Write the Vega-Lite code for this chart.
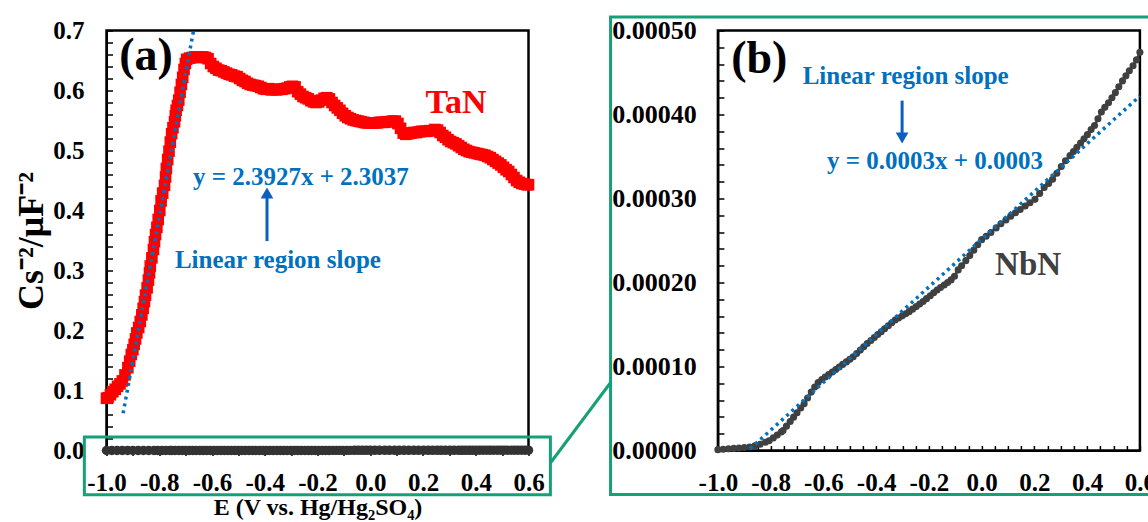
{
  "$schema": "https://vega.github.io/schema/vega-lite/v6.json",
  "padding": {"left": 11.5, "top": 13.5, "right": 0, "bottom": 0},
  "bounds": "flush",
  "spacing": 189.4,
  "config": {
    "view": {"stroke": "black", "strokeWidth": 2.5},
    "font": "Liberation Serif",
    "axis": {
      "labelFont": "Liberation Serif", "labelFontWeight": "bold", "labelFontSize": 25, "labelColor": "black",
      "titleFont": "Liberation Serif", "titleFontWeight": "bold", "titleFontSize": 24, "titleColor": "black",
      "domainColor": "black", "domainWidth": 2, "tickColor": "black", "tickWidth": 1.5,
      "grid": false, "labelFlush": false, "labelOverlap": false
    }
  },
  "datasets": {
    "tan": [
      {"E": -1.000, "C": 0.087}, {"E": -0.994, "C": 0.088}, {"E": -0.985, "C": 0.093}, {"E": -0.976, "C": 0.098},
      {"E": -0.967, "C": 0.102}, {"E": -0.958, "C": 0.107}, {"E": -0.949, "C": 0.111}, {"E": -0.940, "C": 0.116},
      {"E": -0.930, "C": 0.126}, {"E": -0.919, "C": 0.138}, {"E": -0.912, "C": 0.149}, {"E": -0.906, "C": 0.160},
      {"E": -0.900, "C": 0.168}, {"E": -0.895, "C": 0.177}, {"E": -0.890, "C": 0.186}, {"E": -0.885, "C": 0.196},
      {"E": -0.878, "C": 0.205}, {"E": -0.872, "C": 0.215}, {"E": -0.866, "C": 0.226}, {"E": -0.861, "C": 0.237},
      {"E": -0.856, "C": 0.248}, {"E": -0.852, "C": 0.259}, {"E": -0.846, "C": 0.271}, {"E": -0.841, "C": 0.284},
      {"E": -0.837, "C": 0.296}, {"E": -0.834, "C": 0.3075}, {"E": -0.828, "C": 0.321}, {"E": -0.822, "C": 0.335},
      {"E": -0.818, "C": 0.348}, {"E": -0.814, "C": 0.360}, {"E": -0.809, "C": 0.372}, {"E": -0.804, "C": 0.385},
      {"E": -0.798, "C": 0.400}, {"E": -0.793, "C": 0.416}, {"E": -0.787, "C": 0.429}, {"E": -0.780, "C": 0.442},
      {"E": -0.776, "C": 0.456}, {"E": -0.773, "C": 0.470}, {"E": -0.768, "C": 0.485}, {"E": -0.763, "C": 0.499},
      {"E": -0.758, "C": 0.514}, {"E": -0.753, "C": 0.528}, {"E": -0.748, "C": 0.538}, {"E": -0.742, "C": 0.548},
      {"E": -0.739, "C": 0.558}, {"E": -0.736, "C": 0.567}, {"E": -0.731, "C": 0.575}, {"E": -0.726, "C": 0.584},
      {"E": -0.721, "C": 0.597}, {"E": -0.716, "C": 0.610}, {"E": -0.711, "C": 0.622}, {"E": -0.706, "C": 0.635},
      {"E": -0.701, "C": 0.645}, {"E": -0.696, "C": 0.652}, {"E": -0.685, "C": 0.654}, {"E": -0.675, "C": 0.655},
      {"E": -0.665, "C": 0.656}, {"E": -0.655, "C": 0.656}, {"E": -0.645, "C": 0.655}, {"E": -0.635, "C": 0.656},
      {"E": -0.625, "C": 0.655}, {"E": -0.615, "C": 0.653}, {"E": -0.605, "C": 0.645}, {"E": -0.595, "C": 0.640},
      {"E": -0.585, "C": 0.637}, {"E": -0.575, "C": 0.634}, {"E": -0.565, "C": 0.633}, {"E": -0.555, "C": 0.631},
      {"E": -0.545, "C": 0.629}, {"E": -0.535, "C": 0.627}, {"E": -0.525, "C": 0.626}, {"E": -0.515, "C": 0.624},
      {"E": -0.505, "C": 0.623}, {"E": -0.495, "C": 0.620}, {"E": -0.485, "C": 0.617}, {"E": -0.475, "C": 0.615},
      {"E": -0.465, "C": 0.612}, {"E": -0.455, "C": 0.610}, {"E": -0.445, "C": 0.609}, {"E": -0.435, "C": 0.608},
      {"E": -0.425, "C": 0.607}, {"E": -0.415, "C": 0.605}, {"E": -0.405, "C": 0.603}, {"E": -0.395, "C": 0.602},
      {"E": -0.385, "C": 0.603}, {"E": -0.375, "C": 0.601}, {"E": -0.365, "C": 0.602}, {"E": -0.355, "C": 0.601},
      {"E": -0.345, "C": 0.602}, {"E": -0.335, "C": 0.602}, {"E": -0.325, "C": 0.603}, {"E": -0.315, "C": 0.604},
      {"E": -0.305, "C": 0.606}, {"E": -0.295, "C": 0.607}, {"E": -0.285, "C": 0.606}, {"E": -0.275, "C": 0.598},
      {"E": -0.265, "C": 0.594}, {"E": -0.255, "C": 0.590}, {"E": -0.245, "C": 0.588}, {"E": -0.235, "C": 0.586},
      {"E": -0.225, "C": 0.583}, {"E": -0.215, "C": 0.581}, {"E": -0.205, "C": 0.580}, {"E": -0.195, "C": 0.581},
      {"E": -0.185, "C": 0.584}, {"E": -0.175, "C": 0.587}, {"E": -0.165, "C": 0.588}, {"E": -0.155, "C": 0.586},
      {"E": -0.145, "C": 0.580}, {"E": -0.135, "C": 0.575}, {"E": -0.125, "C": 0.571}, {"E": -0.115, "C": 0.567},
      {"E": -0.105, "C": 0.562}, {"E": -0.095, "C": 0.558}, {"E": -0.085, "C": 0.555}, {"E": -0.075, "C": 0.553},
      {"E": -0.065, "C": 0.551}, {"E": -0.055, "C": 0.550}, {"E": -0.045, "C": 0.549}, {"E": -0.035, "C": 0.548},
      {"E": -0.025, "C": 0.547}, {"E": -0.015, "C": 0.546}, {"E": -0.005, "C": 0.546}, {"E": 0.005, "C": 0.546},
      {"E": 0.015, "C": 0.546}, {"E": 0.025, "C": 0.546}, {"E": 0.035, "C": 0.547}, {"E": 0.045, "C": 0.547},
      {"E": 0.055, "C": 0.547}, {"E": 0.065, "C": 0.548}, {"E": 0.075, "C": 0.548}, {"E": 0.085, "C": 0.549},
      {"E": 0.095, "C": 0.549}, {"E": 0.105, "C": 0.545}, {"E": 0.115, "C": 0.537}, {"E": 0.125, "C": 0.529},
      {"E": 0.135, "C": 0.527}, {"E": 0.145, "C": 0.528}, {"E": 0.155, "C": 0.529}, {"E": 0.165, "C": 0.530},
      {"E": 0.175, "C": 0.530}, {"E": 0.185, "C": 0.531}, {"E": 0.195, "C": 0.532}, {"E": 0.205, "C": 0.532},
      {"E": 0.215, "C": 0.532}, {"E": 0.225, "C": 0.533}, {"E": 0.235, "C": 0.533}, {"E": 0.245, "C": 0.535},
      {"E": 0.255, "C": 0.534}, {"E": 0.265, "C": 0.530}, {"E": 0.275, "C": 0.525}, {"E": 0.285, "C": 0.522},
      {"E": 0.295, "C": 0.518}, {"E": 0.305, "C": 0.515}, {"E": 0.315, "C": 0.513}, {"E": 0.325, "C": 0.511},
      {"E": 0.335, "C": 0.508}, {"E": 0.345, "C": 0.505}, {"E": 0.355, "C": 0.502}, {"E": 0.365, "C": 0.500},
      {"E": 0.375, "C": 0.498}, {"E": 0.385, "C": 0.497}, {"E": 0.395, "C": 0.496}, {"E": 0.405, "C": 0.495},
      {"E": 0.415, "C": 0.494}, {"E": 0.425, "C": 0.493}, {"E": 0.435, "C": 0.492}, {"E": 0.445, "C": 0.490},
      {"E": 0.455, "C": 0.488}, {"E": 0.465, "C": 0.485}, {"E": 0.475, "C": 0.482}, {"E": 0.485, "C": 0.479},
      {"E": 0.495, "C": 0.476}, {"E": 0.505, "C": 0.472}, {"E": 0.515, "C": 0.468}, {"E": 0.525, "C": 0.465},
      {"E": 0.535, "C": 0.460}, {"E": 0.545, "C": 0.455}, {"E": 0.555, "C": 0.450}, {"E": 0.565, "C": 0.447},
      {"E": 0.575, "C": 0.445}, {"E": 0.585, "C": 0.444}, {"E": 0.595, "C": 0.443}, {"E": 0.600, "C": 0.443}
    ],
    "nbn": [
      {"E": -1.000, "C": 0.0000010}, {"E": -0.980, "C": 0.0000015}, {"E": -0.960, "C": 0.0000020}, {"E": -0.940, "C": 0.0000025},
      {"E": -0.920, "C": 0.0000030}, {"E": -0.900, "C": 0.0000035}, {"E": -0.880, "C": 0.0000042}, {"E": -0.860, "C": 0.0000055},
      {"E": -0.840, "C": 0.0000075}, {"E": -0.820, "C": 0.0000098}, {"E": -0.806, "C": 0.0000117}, {"E": -0.790, "C": 0.0000150},
      {"E": -0.775, "C": 0.0000185}, {"E": -0.760, "C": 0.0000220}, {"E": -0.753, "C": 0.0000237}, {"E": -0.740, "C": 0.0000290},
      {"E": -0.726, "C": 0.0000345}, {"E": -0.713, "C": 0.0000397}, {"E": -0.700, "C": 0.0000450}, {"E": -0.686, "C": 0.0000505},
      {"E": -0.673, "C": 0.0000556}, {"E": -0.660, "C": 0.0000625}, {"E": -0.646, "C": 0.0000695}, {"E": -0.633, "C": 0.0000756},
      {"E": -0.620, "C": 0.0000810}, {"E": -0.606, "C": 0.0000845}, {"E": -0.593, "C": 0.0000876}, {"E": -0.580, "C": 0.0000905},
      {"E": -0.566, "C": 0.0000935}, {"E": -0.553, "C": 0.0000965}, {"E": -0.540, "C": 0.0000995}, {"E": -0.527, "C": 0.0001025},
      {"E": -0.513, "C": 0.0001055}, {"E": -0.500, "C": 0.0001085}, {"E": -0.487, "C": 0.0001115}, {"E": -0.474, "C": 0.0001155},
      {"E": -0.460, "C": 0.0001195}, {"E": -0.447, "C": 0.0001235}, {"E": -0.434, "C": 0.0001274}, {"E": -0.420, "C": 0.0001310},
      {"E": -0.407, "C": 0.0001345}, {"E": -0.394, "C": 0.0001380}, {"E": -0.381, "C": 0.0001414}, {"E": -0.368, "C": 0.0001450},
      {"E": -0.354, "C": 0.0001485}, {"E": -0.341, "C": 0.0001520}, {"E": -0.328, "C": 0.0001553}, {"E": -0.315, "C": 0.0001578},
      {"E": -0.301, "C": 0.0001603}, {"E": -0.288, "C": 0.0001628}, {"E": -0.275, "C": 0.0001653}, {"E": -0.262, "C": 0.0001683},
      {"E": -0.248, "C": 0.0001713}, {"E": -0.235, "C": 0.0001743}, {"E": -0.222, "C": 0.0001773}, {"E": -0.209, "C": 0.0001808},
      {"E": -0.195, "C": 0.0001843}, {"E": -0.182, "C": 0.0001877}, {"E": -0.169, "C": 0.0001911}, {"E": -0.156, "C": 0.0001941},
      {"E": -0.142, "C": 0.0001971}, {"E": -0.129, "C": 0.0002001}, {"E": -0.116, "C": 0.0002031}, {"E": -0.103, "C": 0.0002075},
      {"E": -0.089, "C": 0.0002150}, {"E": -0.076, "C": 0.0002200}, {"E": -0.060, "C": 0.0002260}, {"E": -0.045, "C": 0.0002320},
      {"E": -0.030, "C": 0.0002385}, {"E": -0.015, "C": 0.0002450}, {"E": 0.000, "C": 0.0002510}, {"E": 0.017, "C": 0.0002550},
      {"E": 0.035, "C": 0.0002595}, {"E": 0.055, "C": 0.0002650}, {"E": 0.073, "C": 0.0002700}, {"E": 0.092, "C": 0.0002745},
      {"E": 0.110, "C": 0.0002790}, {"E": 0.128, "C": 0.0002830}, {"E": 0.146, "C": 0.0002870}, {"E": 0.165, "C": 0.0002910},
      {"E": 0.183, "C": 0.0002950}, {"E": 0.202, "C": 0.0002990}, {"E": 0.220, "C": 0.0003060}, {"E": 0.237, "C": 0.0003130},
      {"E": 0.254, "C": 0.0003180}, {"E": 0.269, "C": 0.0003230}, {"E": 0.285, "C": 0.0003300}, {"E": 0.302, "C": 0.0003380},
      {"E": 0.318, "C": 0.0003450}, {"E": 0.335, "C": 0.0003510}, {"E": 0.348, "C": 0.0003560}, {"E": 0.361, "C": 0.0003610},
      {"E": 0.375, "C": 0.0003660}, {"E": 0.388, "C": 0.0003710}, {"E": 0.401, "C": 0.0003760}, {"E": 0.415, "C": 0.0003820},
      {"E": 0.428, "C": 0.0003870}, {"E": 0.441, "C": 0.0003950}, {"E": 0.454, "C": 0.0004030}, {"E": 0.467, "C": 0.0004085},
      {"E": 0.481, "C": 0.0004140}, {"E": 0.494, "C": 0.0004200}, {"E": 0.507, "C": 0.0004260}, {"E": 0.520, "C": 0.0004330},
      {"E": 0.534, "C": 0.0004400}, {"E": 0.547, "C": 0.0004460}, {"E": 0.560, "C": 0.0004520}, {"E": 0.574, "C": 0.0004580},
      {"E": 0.587, "C": 0.0004650}, {"E": 0.600, "C": 0.0004740}
    ]
  },
  "hconcat": [
    {
      "width": 422, "height": 420,
      "encoding": {
        "x": {"field": "E", "type": "quantitative", "title": "E (V vs. Hg/Hg₂SO₄)",
          "scale": {"domain": [-1, 0.6], "nice": false, "zero": false},
          "axis": {"values": [-1, -0.9, -0.8, -0.7, -0.6, -0.5, -0.4, -0.3, -0.2, -0.1, 0, 0.1, 0.2, 0.3, 0.4, 0.5, 0.6],
            "labelExpr": "abs(datum.value*5 - round(datum.value*5)) < 0.001 ? replace(format(datum.value, '.1f'), '−', '-') : ''",
            "tickSize": 5, "labelPadding": 27, "labelBaseline": "middle",
            "titleY": 57, "titleBaseline": "middle", "titleFontSize": 24}},
        "y": {"field": "C", "type": "quantitative", "title": "Cs⁻²/μF⁻²",
          "scale": {"domain": [0, 0.7], "nice": false, "zero": false},
          "axis": {"values": [0, 0.02, 0.04, 0.06, 0.08, 0.1, 0.12, 0.14, 0.16, 0.18, 0.2, 0.22, 0.24, 0.26, 0.28, 0.3, 0.32, 0.34, 0.36, 0.38, 0.4, 0.42, 0.44, 0.46, 0.48, 0.5, 0.52, 0.54, 0.56, 0.58, 0.6, 0.62, 0.64, 0.66, 0.68, 0.7],
            "labelExpr": "abs(datum.value*10 - round(datum.value*10)) < 0.001 ? format(datum.value, '.1f') : ''",
            "tickSize": -6, "labelPadding": 28.5, "labelBaseline": "middle",
            "titleX": -75, "titleY": 210, "titleAngle": 270, "titleBaseline": "middle", "titleAlign": "center", "titleFontSize": 36}}
      },
      "layer": [
        {"data": {"name": "nbn"}, "mark": {"type": "line", "color": "#333333", "strokeWidth": 5}},
        {"data": {"name": "nbn"}, "mark": {"type": "point", "shape": "circle", "filled": true, "color": "#333333", "size": 90, "opacity": 1}},
        {"data": {"name": "tan"}, "mark": {"type": "line", "color": "#ff0000", "strokeWidth": 2}},
        {"data": {"name": "tan"}, "mark": {"type": "point", "shape": "square", "filled": true, "color": "#ff0000", "size": 135, "opacity": 1}},
        {"data": {"values": [{"E": -0.937, "C": 0.062}, {"E": -0.670, "C": 0.700}]},
          "mark": {"type": "line", "color": "#0070c0", "strokeWidth": 3.5, "strokeDash": [3, 4]}},
        {"data": {"values": [{"E": -0.3915, "C": 0.349, "C2": 0.421}]},
          "mark": {"type": "rule", "color": "#0a5fbf", "strokeWidth": 3},
          "encoding": {"y2": {"field": "C2"}}},
        {"data": {"values": [{"E": -0.3915, "C": 0.4290}]},
          "mark": {"type": "point", "shape": "triangle-up", "filled": true, "color": "#0a5fbf", "size": 160, "opacity": 1}},
        {"data": {"values": [{"E": -0.850, "C": 0.6347, "label": "(a)"}]},
          "mark": {"type": "text", "font": "Liberation Serif", "fontWeight": "bold", "fontSize": 46, "color": "black", "align": "center", "baseline": "alphabetic"},
          "encoding": {"text": {"field": "label"}}},
        {"data": {"values": [{"E": 0.325, "C": 0.5625, "label": "TaN"}]},
          "mark": {"type": "text", "font": "Liberation Serif", "fontWeight": "bold", "fontSize": 34, "color": "#ff0000", "align": "center", "baseline": "alphabetic"},
          "encoding": {"text": {"field": "label"}}},
        {"data": {"values": [{"E": -0.263, "C": 0.4425, "label": "y = 2.3927x + 2.3037"}, {"E": -0.35, "C": 0.305, "label": "Linear region slope"}]},
          "mark": {"type": "text", "font": "Liberation Serif", "fontWeight": "bold", "fontSize": 25, "color": "#0070c0", "align": "center", "baseline": "alphabetic"},
          "encoding": {"text": {"field": "label"}}},
        {"data": {"values": [{"E": -1.084, "E2": 0.683, "C": -0.0737, "C2": 0.0225}]},
          "mark": {"type": "rect", "fill": null, "fillOpacity": 0, "stroke": "#17a078", "strokeWidth": 3},
          "encoding": {"x2": {"field": "E2"}, "y2": {"field": "C2"}}},
        {"data": {"values": [{"E": 0.683, "C": -0.0208}, {"E": 0.910, "C": 0.1125}]},
          "mark": {"type": "line", "color": "#17a078", "strokeWidth": 3}}
      ]
    },
    {
      "width": 422, "height": 420,
      "encoding": {
        "x": {"field": "E", "type": "quantitative", "title": null,
          "scale": {"domain": [-1, 0.6], "nice": false, "zero": false},
          "axis": {"values": [-1, -0.95, -0.9, -0.85, -0.8, -0.75, -0.7, -0.65, -0.6, -0.55, -0.5, -0.45, -0.4, -0.35, -0.3, -0.25, -0.2, -0.15, -0.1, -0.05, 0, 0.05, 0.1, 0.15, 0.2, 0.25, 0.3, 0.35, 0.4, 0.45, 0.5, 0.55, 0.6],
            "labelExpr": "abs(datum.value*5 - round(datum.value*5)) < 0.001 ? replace(format(datum.value, '.1f'), '−', '-') : ''",
            "tickSize": -5, "labelPadding": 37, "labelBaseline": "middle"}},
        "y": {"field": "C", "type": "quantitative", "title": null,
          "scale": {"domain": [0, 0.0005], "nice": false, "zero": false},
          "axis": {"values": [0, 0.00002, 0.00004, 0.00006, 0.00008, 0.0001, 0.00012, 0.00014, 0.00016, 0.00018, 0.0002, 0.00022, 0.00024, 0.00026, 0.00028, 0.0003, 0.00032, 0.00034, 0.00036, 0.00038, 0.0004, 0.00042, 0.00044, 0.00046, 0.00048, 0.0005],
            "labelExpr": "abs(datum.value*10000 - round(datum.value*10000)) < 0.001 ? format(datum.value, '.5f') : ''",
            "tickSize": -6, "labelPadding": 27.7, "labelBaseline": "middle", "labelFontSize": 26}}
      },
      "layer": [
        {"data": {"name": "nbn"}, "mark": {"type": "line", "color": "#404040", "strokeWidth": 2.5}},
        {"data": {"name": "nbn"}, "mark": {"type": "point", "shape": "circle", "filled": true, "color": "#404040", "size": 50, "opacity": 1}},
        {"data": {"values": [{"E": -0.878, "C": 0.000002}, {"E": 0.600, "C": 0.000422}]},
          "mark": {"type": "line", "color": "#0070c0", "strokeWidth": 3.5, "strokeDash": [3, 4]}},
        {"data": {"values": [{"E": -0.3016, "C": 0.0004165, "C2": 0.000377}]},
          "mark": {"type": "rule", "color": "#0a5fbf", "strokeWidth": 3},
          "encoding": {"y2": {"field": "C2"}}},
        {"data": {"values": [{"E": -0.3016, "C": 0.000372}]},
          "mark": {"type": "point", "shape": "triangle-down", "filled": true, "color": "#0a5fbf", "size": 160, "opacity": 1}},
        {"data": {"values": [{"E": -0.843, "C": 0.000450, "label": "(b)"}]},
          "mark": {"type": "text", "font": "Liberation Serif", "fontWeight": "bold", "fontSize": 46, "color": "black", "align": "center", "baseline": "alphabetic"},
          "encoding": {"text": {"field": "label"}}},
        {"data": {"values": [{"E": 0.176, "C": 0.0002087, "label": "NbN"}]},
          "mark": {"type": "text", "font": "Liberation Serif", "fontWeight": "bold", "fontSize": 33, "color": "#404040", "align": "center", "baseline": "alphabetic"},
          "encoding": {"text": {"field": "label"}}},
        {"data": {"values": [{"E": -0.288, "C": 0.000436, "label": "Linear region slope"}, {"E": -0.1767, "C": 0.0003347, "label": "y = 0.0003x + 0.0003"}]},
          "mark": {"type": "text", "font": "Liberation Serif", "fontWeight": "bold", "fontSize": 25, "color": "#0070c0", "align": "center", "baseline": "alphabetic"},
          "encoding": {"text": {"field": "label"}}},
        {"data": {"values": [{"E": -1.407, "E2": 0.66, "C": -0.0000524, "C2": 0.000516}]},
          "mark": {"type": "rect", "fill": null, "fillOpacity": 0, "stroke": "#17a078", "strokeWidth": 3},
          "encoding": {"x2": {"field": "E2"}, "y2": {"field": "C2"}}}
      ]
    }
  ]
}
